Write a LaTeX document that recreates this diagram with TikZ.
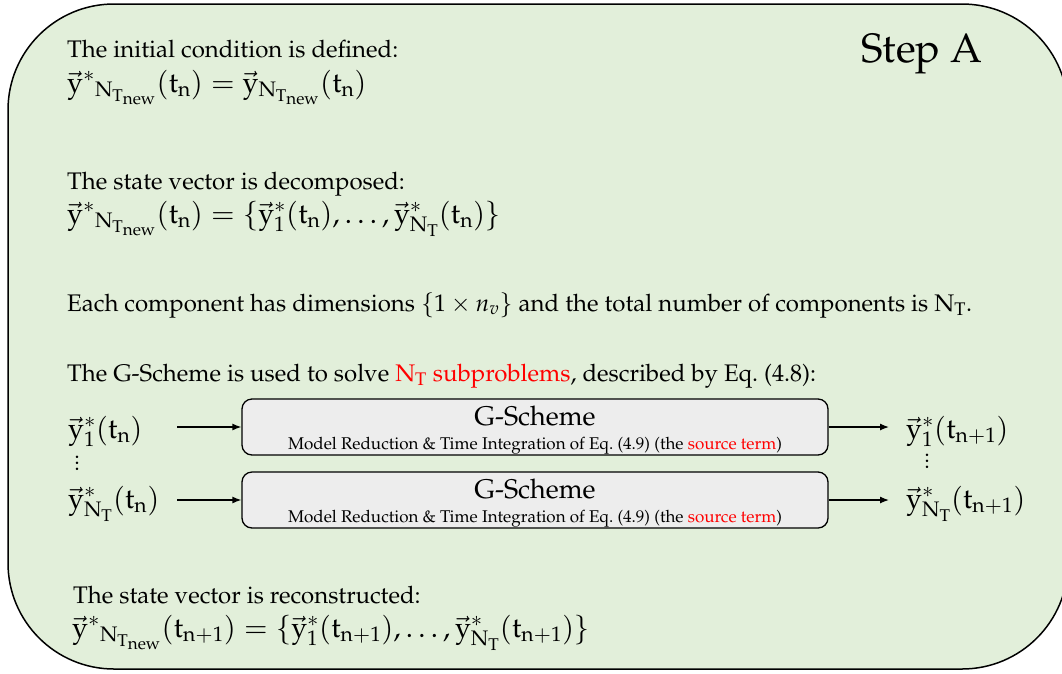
\documentclass[tikz,border=0pt]{standalone}
\usepackage[T1]{fontenc}
\usepackage{mathpazo}
\usetikzlibrary{arrows.meta}
\definecolor{bggreen}{HTML}{E2EFDA}
\definecolor{boxgrey}{HTML}{EDEDED}
\definecolor{srcred}{HTML}{FF0000}
\DeclareMathSizes{28.5}{28.5}{21}{17}
\newcommand{\myy}{\vec{\mathrm{y}}}
\newcommand{\mytn}{\mathrm{t}_{\mathrm{n}}}
\newcommand{\mytnn}{\mathrm{t}_{\mathrm{n+1}}}
\newcommand{\myNT}{\mathrm{N}_{\mathrm{T}}}
\newcommand{\myNTnew}{\mathrm{N}_{\mathrm{T}_{\mathrm{new}}}}
\begin{document}
\begin{tikzpicture}[x=1pt,y=-1pt,
  txt/.style={inner sep=0pt,anchor=base west,font=\fontsize{24}{28}\selectfont},
  eqn/.style={inner sep=0pt,anchor=base west,font=\fontsize{28.5}{32}\selectfont},
  gbox/.style={draw,fill=boxgrey,line width=1.3pt,rounded corners=10pt,minimum width=586pt,minimum height=56pt,inner sep=0pt},
  gtitle/.style={inner sep=0pt,anchor=base,font=\fontsize{27}{30}\selectfont},
  gsub/.style={inner sep=0pt,anchor=base,font=\fontsize{17}{20}\selectfont},
  dots/.style={inner sep=0pt,align=center,font=\fontsize{22}{6}\selectfont},
  arr/.style={line width=1.3pt,-{Latex[length=9pt,width=7pt]}}]
\useasboundingbox (0,0) rectangle (1062,673);
\begin{scope}
\clip (0,0) rectangle (1062,673);
\path[draw,fill=bggreen,line width=1.5pt,rounded corners=106pt] (8,4) rectangle (1068,669);
\end{scope}
\node[inner sep=0pt,anchor=base west,font=\fontsize{41}{46}\selectfont] (step) at (861,62) {Step A};
\node[txt] (t1) at (67,57) {The initial condition is defined:};
\node[eqn] (e1) at (67,92) {$\myy^{*}{}_{\myNTnew}(\mytn) = \myy_{\myNTnew}(\mytn)$};
\node[txt] (t2) at (67,189) {The state vector is decomposed:};
\node[eqn] (e2) at (67,223) {$\myy^{*}{}_{\myNTnew}(\mytn) = \{\myy^{*}_{1}(\mytn),\dots,\myy^{*}_{\myNT}(\mytn)\}$};
\node[txt] (t3) at (67,311) {Each component has dimensions $\{1\times n_v\}$ and the total number of components is $\myNT$.};
\node[txt] (t4) at (67,381) {The G-Scheme is used to solve \textcolor{srcred}{$\myNT$ subproblems}, described by Eq.~(4.8):};
% G-Scheme boxes
\node[gbox] (b1) at (535,427) {};
\node[gbox] (b2) at (535,500) {};
\node[gtitle] (g1) at (535,425) {G-Scheme};
\node[gsub] (s1) at (535,449) {Model Reduction \& Time Integration of Eq.~(4.9) (the \textcolor{srcred}{source term})};
\node[gtitle] (g2) at (535,498) {G-Scheme};
\node[gsub] (s2) at (535,522) {Model Reduction \& Time Integration of Eq.~(4.9) (the \textcolor{srcred}{source term})};
% inputs
\node[eqn] (in1) at (68,438) {$\myy^{*}_{1}(\mytn)$};
\node[eqn] (in2) at (68,508) {$\myy^{*}_{\myNT}(\mytn)$};
\node[dots] (dl) at (77,463) {.\\.\\.};
\coordinate (a1) at (177,427);
\coordinate (a2) at (177,500);
\draw[arr] (a1) -- (b1.west);
\draw[arr] (a2) -- (b2.west);
% outputs
\node[eqn] (out1) at (906,438) {$\myy^{*}_{1}(\mytnn)$};
\node[eqn] (out2) at (906,508) {$\myy^{*}_{\myNT}(\mytnn)$};
\node[dots] (dr) at (927,461) {.\\.\\.};
\coordinate (c1) at (889,427);
\coordinate (c2) at (889,500);
\draw[arr] (b1.east) -- (c1);
\draw[arr] (b2.east) -- (c2);
% reconstruction
\node[txt] (t5) at (73,603) {The state vector is reconstructed:};
\node[eqn] (e5) at (72,637) {$\myy^{*}{}_{\myNTnew}(\mytnn) = \{\myy^{*}_{1}(\mytnn),\dots,\myy^{*}_{\myNT}(\mytnn)\}$};
\end{tikzpicture}
\end{document}
